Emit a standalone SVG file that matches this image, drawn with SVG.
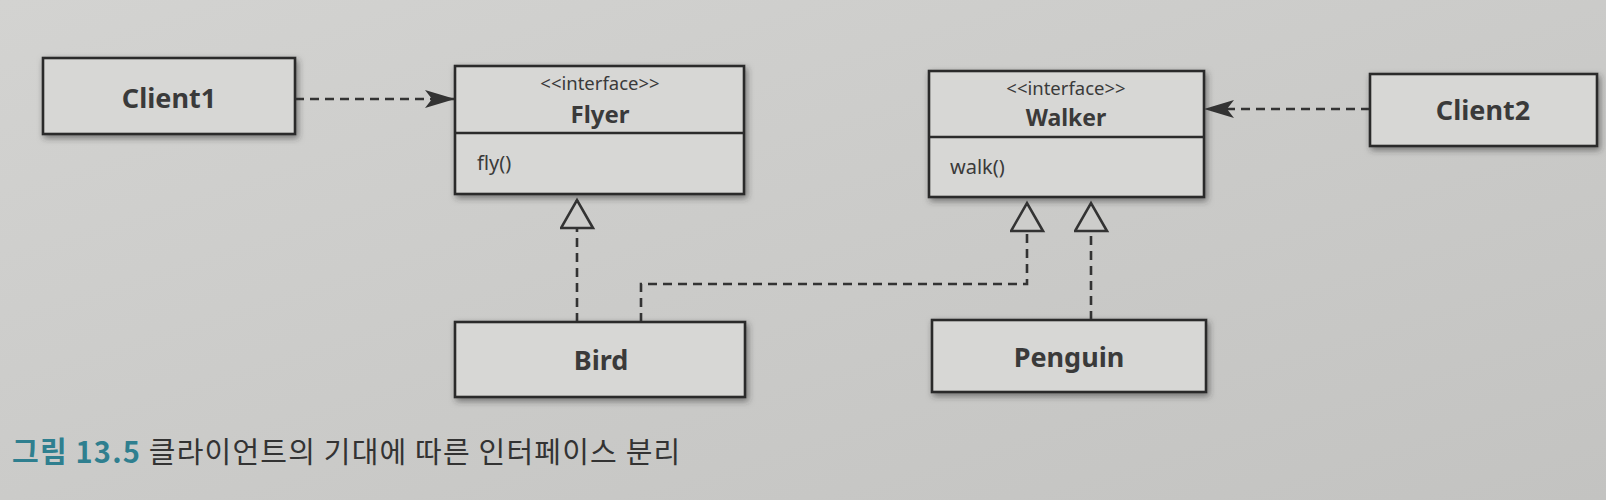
<svg xmlns="http://www.w3.org/2000/svg" width="1606" height="500" viewBox="0 0 1606 500">
  <defs>
    <linearGradient id="paper" x1="0" y1="0" x2="1" y2="1">
      <stop offset="0" stop-color="#d3d3d1"/>
      <stop offset="1" stop-color="#c3c3c1"/>
    </linearGradient>
    <filter id="shadow" x="-10%" y="-20%" width="125%" height="150%">
      <feDropShadow dx="2" dy="3" stdDeviation="3" flood-color="#333" flood-opacity="0.55"/>
    </filter>
    <marker id="dep" markerUnits="userSpaceOnUse" markerWidth="32" markerHeight="22" refX="30" refY="10" orient="auto" viewBox="0 0 32 22">
      <path d="M0,1 L30,10 L0,19 L7,10 Z" fill="#333" stroke="none"/>
    </marker>
    <marker id="real" markerUnits="userSpaceOnUse" markerWidth="34" markerHeight="40" refX="31" refY="17" orient="auto" viewBox="0 0 34 40">
      <path d="M3,1 L31,17 L3,33 Z" fill="#cdcdcb" stroke="#333" stroke-width="2.6" stroke-dasharray="none" stroke-linejoin="miter"/>
    </marker>
    <style>
      .box { fill: #d7d7d5; stroke: #2b2b2b; stroke-width: 2.6; filter: url(#shadow); }
      .div { stroke: #2b2b2b; stroke-width: 2.4; }
      .name { font-family: "Noto Sans", "Open Sans", "DejaVu Sans", sans-serif; font-weight: 700; fill: #3a3a3a; text-anchor: middle; }
      .stereo { font-family: "Noto Sans", "Open Sans", "DejaVu Sans", sans-serif; font-size: 18.5px; fill: #3a3a3a; text-anchor: middle; }
      .op { font-family: "Noto Sans", "Open Sans", "DejaVu Sans", sans-serif; font-size: 20px; fill: #3a3a3a; }
      .conn { fill: none; stroke: #333; stroke-width: 2.6; stroke-dasharray: 9 6; }
      .cap { font-family: "Noto Sans CJK KR", "Noto Sans", sans-serif; font-size: 29px; letter-spacing: 1.2px; fill: #333; }
      .capnum { fill: #2f7f8f; font-weight: 700; }
    </style>
  </defs>

  <rect x="0" y="0" width="1606" height="500" fill="url(#paper)"/>

  <g id="connectors">
    <path class="conn" d="M295,99 H455" marker-end="url(#dep)"/>
    <path class="conn" d="M1370,109 H1204" marker-end="url(#dep)"/>
    <path class="conn" d="M577,322 V200" marker-end="url(#real)"/>
    <path class="conn" d="M641,322 V284 H1027 V203" marker-end="url(#real)"/>
    <path class="conn" d="M1091,320 V203" marker-end="url(#real)"/>
  </g>

  <g id="client1">
    <rect class="box" x="43" y="58" width="252" height="76"/>
    <text class="name" x="169" y="108" font-size="27">Client1</text>
  </g>

  <g id="flyer">
    <rect class="box" x="455" y="66" width="289" height="128"/>
    <line class="div" x1="455" y1="133" x2="744" y2="133"/>
    <text class="stereo" x="600" y="90">&lt;&lt;interface&gt;&gt;</text>
    <text class="name" x="600" y="123" font-size="24">Flyer</text>
    <text class="op" x="477" y="170">fly()</text>
  </g>

  <g id="walker">
    <rect class="box" x="929" y="71" width="275" height="126"/>
    <line class="div" x1="929" y1="137" x2="1204" y2="137"/>
    <text class="stereo" x="1066" y="95">&lt;&lt;interface&gt;&gt;</text>
    <text class="name" x="1066" y="126" font-size="23">Walker</text>
    <text class="op" x="950" y="174">walk()</text>
  </g>

  <g id="client2">
    <rect class="box" x="1370" y="74" width="227" height="72"/>
    <text class="name" x="1483" y="120" font-size="27">Client2</text>
  </g>

  <g id="bird">
    <rect class="box" x="455" y="322" width="290" height="75"/>
    <text class="name" x="601" y="370" font-size="27">Bird</text>
  </g>

  <g id="penguin">
    <rect class="box" x="932" y="320" width="274" height="72"/>
    <text class="name" x="1069" y="367" font-size="27">Penguin</text>
  </g>

  <g id="caption">
    <text class="cap" x="12" y="463"><tspan class="capnum">그림 13.5</tspan> 클라이언트의 기대에 따른 인터페이스 분리</text>
  </g>
</svg>
